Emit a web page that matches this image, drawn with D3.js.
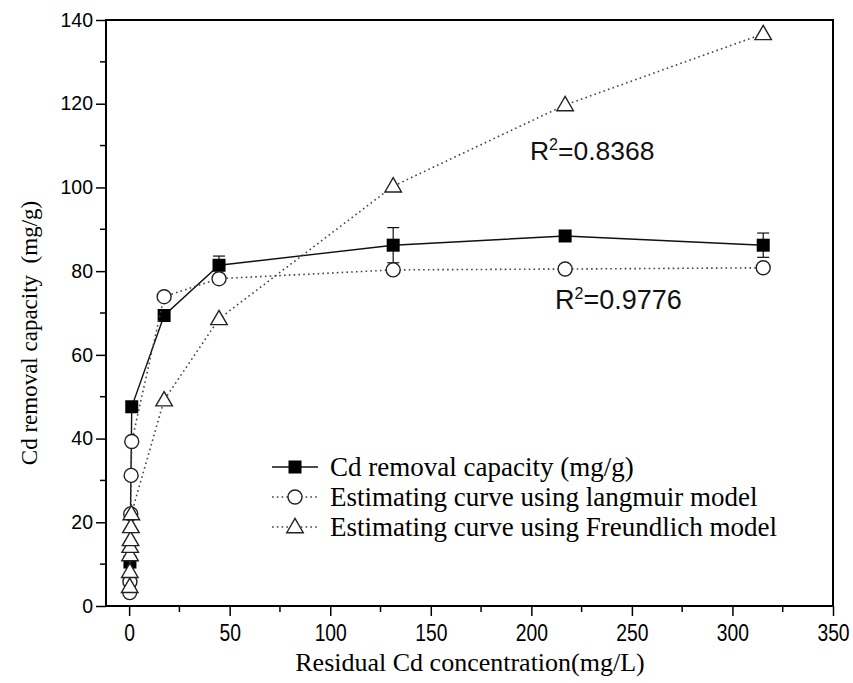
<!DOCTYPE html>
<html><head><meta charset="utf-8">
<script src="https://cdn.jsdelivr.net/npm/d3@7"></script>
<style>body{margin:0;background:#fff}</style>
</head><body>
<svg id="chart" width="853" height="683"></svg>
<script>
// Tick values
const xTicks = [0, 50, 100, 150, 200, 250, 300, 350];
const yTicks = [0, 20, 40, 60, 80, 100, 120, 140];

// Measured removal capacity (mean ± error)
const expCe  = [0.4, 1.3, 17.4, 44.7, 131.3, 216.8, 315.3];
const expQ   = [10.5, 47.6, 69.4, 81.4, 86.2, 88.4, 86.2];
const expErr = [0, 0, 0, 2.2, 4.2, 1.0, 2.9];

// Langmuir estimate
const langCe = [0.3, 0.4, 0.8, 1.0, 1.3, 17.4, 44.7, 131.3, 216.8, 315.3];
const langQ  = [3.2, 5.8, 22.0, 31.2, 39.3, 73.9, 78.2, 80.3, 80.5, 80.8];

// Freundlich estimate
const freCe = [0.3, 0.35, 0.45, 0.55, 0.7, 0.9, 1.1, 17.4, 44.7, 131.3, 216.8, 315.3];
const freQ  = [4.6, 8.2, 12.2, 14.2, 15.8, 18.9, 22.0, 49.2, 68.6, 100.3, 119.7, 136.7];

const legendLabels = [
  "Cd removal capacity (mg/g)",
  "Estimating curve using langmuir model",
  "Estimating curve using Freundlich model"
];
const r2Values = ["0.8368", "0.9776"];

const svg = d3.select("#chart");
const L = 106, R = 833, T = 20, B = 606;
const x = d3.scaleLinear().domain([-11.5, 350]).range([L, R]);
const y = d3.scaleLinear().domain([0, 140]).range([B, T]);

const sans = "'Liberation Sans', Arial, sans-serif";
const serif = "'Liberation Serif', 'Times New Roman', serif";

// minor ticks
const g = svg.append("g");
g.selectAll(".xminor").data(d3.range(25, 350, 50)).join("line")
  .attr("x1", d => x(d)).attr("x2", d => x(d)).attr("y1", B).attr("y2", B + 6)
  .attr("stroke", "#000").attr("stroke-width", 1.5);
g.selectAll(".yminor").data(d3.range(10, 140, 20)).join("line")
  .attr("y1", d => y(d)).attr("y2", d => y(d)).attr("x1", L).attr("x2", L - 6)
  .attr("stroke", "#000").attr("stroke-width", 1.5);

// axes
const xAxis = svg.append("g").attr("transform", `translate(0,${B})`)
  .call(d3.axisBottom(x).tickValues(xTicks).tickSize(10).tickPadding(9).tickSizeOuter(0));
const yAxis = svg.append("g").attr("transform", `translate(${L},0)`)
  .call(d3.axisLeft(y).tickValues(yTicks).tickSize(10).tickPadding(3).tickSizeOuter(0));
[xAxis, yAxis].forEach(a => {
  a.select(".domain").remove();
  a.selectAll(".tick line").attr("stroke", "#000").attr("stroke-width", 1.5);
  a.selectAll("text").attr("fill", "#000").style("font-family", sans);
});
xAxis.selectAll("text").style("font-size", "23px").attr("transform", "scale(0.84,1)");
yAxis.selectAll("text").style("font-size", "19.5px");

// frame
svg.append("rect").attr("x", L).attr("y", T).attr("width", R - L).attr("height", B - T)
  .attr("fill", "none").attr("stroke", "#000").attr("stroke-width", 2);

// axis titles
svg.append("text").attr("x", 470).attr("y", 671).attr("text-anchor", "middle")
  .style("font-family", serif).style("font-size", "26px").text("Residual Cd concentration(mg/L)");
svg.append("text").attr("transform", "translate(37,333) rotate(-90)").attr("text-anchor", "middle")
  .style("font-family", serif).style("font-size", "23px").style("white-space", "pre")
  .text("Cd removal capacity  (mg/g)");

const plot = svg.append("g");
const line = d3.line().x(d => x(d[0])).y(d => y(d[1]));
const dotted = { stroke: "#444", "stroke-width": 1.6, "stroke-dasharray": "1.6,3.2", fill: "none" };

function applyAttrs(sel, a) { Object.entries(a).forEach(([k, v]) => sel.attr(k, v)); return sel; }

// measured series
const expPts = expCe.map((c, i) => [c, expQ[i], expErr[i]]);
plot.append("path").datum(expPts).attr("d", line).attr("fill", "none").attr("stroke", "#111").attr("stroke-width", 1.4);
const eb = plot.selectAll(".eb").data(expPts.filter(d => d[2] > 0)).join("g");
eb.append("line").attr("x1", d => x(d[0])).attr("x2", d => x(d[0]))
  .attr("y1", d => y(d[1] - d[2])).attr("y2", d => y(d[1] + d[2])).attr("stroke", "#111").attr("stroke-width", 1.2);
[-1, 1].forEach(s => eb.append("line").attr("x1", d => x(d[0]) - 6).attr("x2", d => x(d[0]) + 6)
  .attr("y1", d => y(d[1] + s * d[2])).attr("y2", d => y(d[1] + s * d[2])).attr("stroke", "#111").attr("stroke-width", 1.2));
plot.selectAll(".sq").data(expPts).join("rect")
  .attr("x", d => x(d[0]) - 6.5).attr("y", d => y(d[1]) - 6.5).attr("width", 13).attr("height", 13).attr("fill", "#000");

// Langmuir
const langPts = langCe.map((c, i) => [c, langQ[i]]);
applyAttrs(plot.append("path").datum(langPts).attr("d", line), dotted);
plot.selectAll(".ci").data(langPts).join("circle")
  .attr("cx", d => x(d[0])).attr("cy", d => y(d[1])).attr("r", 7)
  .attr("fill", "#fff").attr("stroke", "#222").attr("stroke-width", 1.4);

// Freundlich
const frePts = freCe.map((c, i) => [c, freQ[i]]);
applyAttrs(plot.append("path").datum(frePts).attr("d", line), dotted);
const tri = d3.symbol().type(d3.symbolTriangle).size(118);
plot.selectAll(".tr").data(frePts).join("path")
  .attr("d", tri).attr("transform", d => `translate(${x(d[0])},${y(d[1]) + 1})`)
  .attr("fill", "#fff").attr("stroke", "#222").attr("stroke-width", 1.4);

// R² annotations
function r2(px, py, val, size) {
  const t = svg.append("text").attr("x", px).attr("y", py)
    .style("font-family", sans).style("font-size", size + "px").attr("fill", "#111");
  t.append("tspan").text("R");
  t.append("tspan").attr("dy", -10).style("font-size", "16px").text("2");
  t.append("tspan").attr("dy", 10).text("=" + val);
}
r2(x(199.3), y(106.6), r2Values[0], 26.5);
r2(x(211.8), y(71), r2Values[1], 27);

// legend
const lg = svg.append("g").attr("transform", "translate(272,467)");
legendLabels.forEach((lab, i) => {
  const row = lg.append("g").attr("transform", `translate(0,${i * 30})`);
  if (i === 0) {
    row.append("line").attr("x1", 0).attr("x2", 46).attr("stroke", "#111").attr("stroke-width", 1.4);
    row.append("rect").attr("x", 16.5).attr("y", -6.5).attr("width", 13).attr("height", 13).attr("fill", "#000");
  } else {
    applyAttrs(row.append("line").attr("x1", 0).attr("x2", 46), dotted);
    if (i === 1) row.append("circle").attr("cx", 23).attr("cy", 0).attr("r", 7)
      .attr("fill", "#fff").attr("stroke", "#222").attr("stroke-width", 1.4);
    else row.append("path").attr("d", tri).attr("transform", "translate(23,1)")
      .attr("fill", "#fff").attr("stroke", "#222").attr("stroke-width", 1.4);
  }
  row.append("text").attr("x", 58).attr("y", 8.5).style("font-family", serif).style("font-size", "27px")
    .attr("fill", "#000").text(lab);
});
</script>
</body></html>
